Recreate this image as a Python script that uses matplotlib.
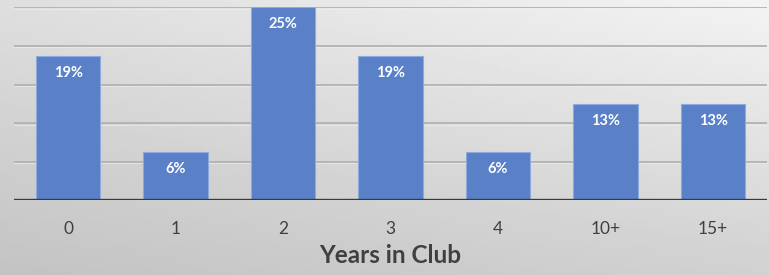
import matplotlib.pyplot as plt
import numpy as np

# ---- data (members per group, 16 in total) ----
years = ['0', '1', '2', '3', '4', '10+', '15+']
members = [3, 1, 4, 3, 1, 2, 2]
total = 16
pct = [m / total * 100 for m in members]
labels = [str(int(round(p + 0.001))) + '%' for p in pct]

plt.rcParams['font.family'] = ['Lato', 'DejaVu Sans']

fig = plt.figure(figsize=(7.69, 2.75), dpi=100)

# gradient background, light top-right, darker bottom-left
bg = fig.add_axes([0, 0, 1, 1], zorder=-10)
xx, yy = np.meshgrid(np.linspace(0, 1, 200), np.linspace(0, 1, 80))
tl, tr, bl, br = 222, 243, 195, 209
img = (tl * (1 - xx) * (1 - yy) + tr * xx * (1 - yy) + bl * (1 - xx) * yy + br * xx * yy) / 255.0
bg.imshow(img, cmap='gray', vmin=0, vmax=1, aspect='auto', extent=[0, 1, 0, 1])
bg.axis('off')

ax = fig.add_axes([0.0186, 0.271, 0.9785, 0.702])
ax.patch.set_alpha(0)

x = np.arange(len(years))
ax.bar(x, pct, width=0.6, color='#5a80c8', edgecolor='#8fa9dc', linewidth=0.8, zorder=3)

for xi, p, lab in zip(x, pct, labels):
    ax.text(xi, p - 2.2, lab, ha='center', va='center', color='white',
            fontsize=10.5, fontweight='bold', zorder=4)

# gridlines with a light shadow line under them
for g in [5, 10, 15, 20, 25]:
    ax.axhline(g, color='#b2b2b2', linewidth=1.3, zorder=1)
    ax.axhline(g - 0.18, color='#f0f0f0', linewidth=0.8, alpha=0.6, zorder=1)
ax.axhline(0, color='#3a3a3a', linewidth=2.4, zorder=5)

ax.set_xlim(-0.5, len(years) - 0.5)
ax.set_ylim(0, 25)
ax.set_yticks([])
ax.set_xticks(x)
ax.set_xticklabels(years, fontsize=12.5, color='#404040')
ax.tick_params(axis='x', length=0, pad=15)
for s in ax.spines.values():
    s.set_visible(False)

ax.set_xlabel('Years in Club', fontsize=17.5, fontweight='bold', color='#404040', labelpad=5)

plt.savefig('out.png', dpi=100)
